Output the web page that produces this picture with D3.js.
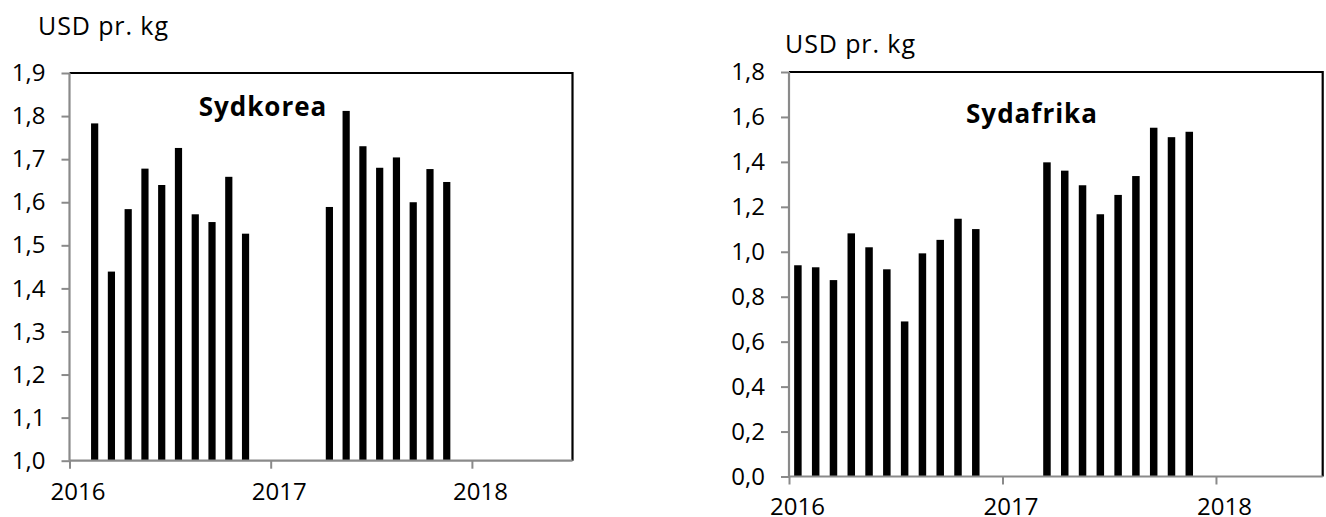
<!DOCTYPE html>
<html>
<head>
<meta charset="utf-8">
<script src="https://cdn.jsdelivr.net/npm/d3@7/dist/d3.min.js"></script>
<style>
  html, body { margin: 0; padding: 0; background: #fff; }
  svg { display: block; }
  text { font-family: "Open Sans", sans-serif; fill: #000; }
</style>
</head>
<body>
<svg id="chart" width="1326" height="517"></svg>
<script>
// ---- Data ----
const yearTickLabels = ["2016", "2017", "2018"];

const koreaTitle = "Sydkorea";
const koreaMonths = ["2016-02","2016-03","2016-04","2016-05","2016-06","2016-07","2016-08","2016-09","2016-10","2016-11",
                     "2017-04","2017-05","2017-06","2017-07","2017-08","2017-09","2017-10","2017-11"];
const koreaValues = [1.783, 1.439, 1.584, 1.678, 1.640, 1.726, 1.572, 1.554, 1.659, 1.527,
                     1.589, 1.812, 1.730, 1.680, 1.704, 1.600, 1.677, 1.647];
const koreaYTicks = [1.0, 1.1, 1.2, 1.3, 1.4, 1.5, 1.6, 1.7, 1.8, 1.9];

const africaTitle = "Sydafrika";
const africaMonths = ["2016-01","2016-02","2016-03","2016-04","2016-05","2016-06","2016-07","2016-08","2016-09","2016-10","2016-11",
                      "2017-03","2017-04","2017-05","2017-06","2017-07","2017-08","2017-09","2017-10","2017-11"];
const africaValues = [0.940, 0.931, 0.874, 1.082, 1.020, 0.922, 0.690, 0.993, 1.053, 1.147, 1.101,
                      1.398, 1.361, 1.296, 1.167, 1.253, 1.337, 1.552, 1.510, 1.534];
const africaYTicks = [0.0, 0.2, 0.4, 0.6, 0.8, 1.0, 1.2, 1.4, 1.6, 1.8];

const unitLabel = "USD pr. kg";

// ---- Drawing ----
const svg = d3.select("#chart");
const fmt = v => d3.format(".1f")(v).replace(".", ",");
const monthIndex = s => { const [y, m] = s.split("-").map(Number); return (y - 2016) * 12 + (m - 1); };

function drawPanel(cfg) {
  const g = svg.append("g");
  const x = d3.scaleLinear().domain([0, 30]).range([cfg.x0, cfg.x1]);
  const y = d3.scaleLinear().domain(cfg.yDomain).range([cfg.y0, cfg.y1]);
  const grayAxis = "#8a8a8a";

  // frame (top & right black)
  g.append("path")
    .attr("d", `M${cfg.x0},${cfg.y1}H${cfg.x1}V${cfg.y0}`)
    .attr("fill", "none").attr("stroke", "#000").attr("stroke-width", 2.2);

  // bars
  g.selectAll("rect.bar").data(cfg.months.map((m, i) => ({ m: monthIndex(m), v: cfg.values[i] })))
    .join("rect").attr("class", "bar")
    .attr("x", d => x(d.m + 0.5) - cfg.barW / 2)
    .attr("width", cfg.barW)
    .attr("y", d => y(d.v))
    .attr("height", d => y(cfg.yDomain[0]) - y(d.v))
    .attr("fill", "#000");

  // y axis
  const yAxis = d3.axisLeft(y).tickValues(cfg.yTicks).tickFormat(fmt).tickSize(8).tickPadding(16);
  const ya = g.append("g").attr("transform", `translate(${cfg.x0},0)`).call(yAxis);
  ya.select(".domain").attr("stroke", grayAxis).attr("stroke-width", 2.2).attr("d", `M0,${cfg.y0}V${cfg.y1}`);
  ya.selectAll(".tick line").attr("stroke", grayAxis).attr("stroke-width", 2);
  ya.selectAll(".tick text").style("font-size", "24px").attr("fill", "#000").attr("font-family", "Open Sans");

  // x axis
  const xAxis = d3.axisBottom(x).tickValues([0, 12, 24]).tickFormat((d, i) => yearTickLabels[i]).tickSize(8).tickPadding(cfg.xPad);
  const xa = g.append("g").attr("transform", `translate(0,${cfg.y0})`).call(xAxis);
  xa.select(".domain").attr("stroke", grayAxis).attr("stroke-width", 2.2).attr("d", `M${cfg.x0},0H${cfg.x1}`);
  xa.selectAll(".tick line").attr("stroke", grayAxis).attr("stroke-width", 2);
  xa.selectAll(".tick text").style("font-size", "24px").attr("fill", "#000").attr("font-family", "Open Sans")
    .attr("dx", 8);

  // unit label
  g.append("text").attr("x", cfg.unitX).attr("y", cfg.unitY)
    .style("font-size", "25px").style("letter-spacing", "0.9px").text(unitLabel);

  // title
  g.append("text").attr("x", cfg.titleX).attr("y", cfg.titleY)
    .attr("text-anchor", "middle").style("font-size", "26px").style("font-weight", "bold")
    .style("letter-spacing", "1px")
    .text(cfg.title);
}

drawPanel({
  x0: 69.5, x1: 572.5, y0: 460.7, y1: 73,
  yDomain: [1.0, 1.9], yTicks: koreaYTicks,
  months: koreaMonths, values: koreaValues, barW: 7.2, xPad: 14,
  unitX: 38, unitY: 35, title: koreaTitle, titleX: 263, titleY: 116
});

drawPanel({
  x0: 789, x1: 1322.7, y0: 476.5, y1: 72,
  yDomain: [0.0, 1.8], yTicks: africaYTicks,
  months: africaMonths, values: africaValues, barW: 7.5, xPad: 13,
  unitX: 785, unitY: 53, title: africaTitle, titleX: 1032, titleY: 123
});
</script>
</body>
</html>
